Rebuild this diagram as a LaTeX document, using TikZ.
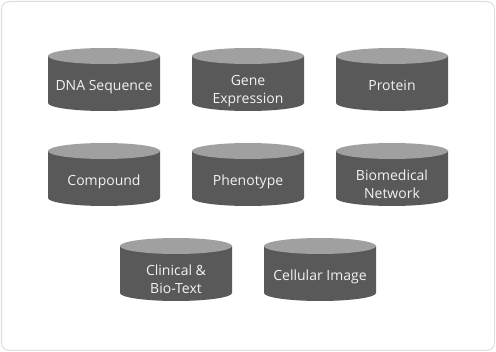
\documentclass[tikz,border=0pt]{standalone}
\usepackage{fontspec}
\setmainfont{Open Sans}
\usetikzlibrary{positioning,calc}
\definecolor{DrumBody}{RGB}{89,89,89}
\definecolor{DrumTop}{RGB}{160,160,160}
\definecolor{DrumText}{RGB}{242,242,242}
\definecolor{FrameGray}{RGB}{222,222,222}
\pgfdeclarelayer{background}
\pgfsetlayers{background,main}
\tikzset{
  drum/.style={minimum width=84pt,minimum height=47.25pt,
    inner sep=0pt,outer sep=0pt,text=DrumText,align=center,
    font=\fontsize{10.5}{13.5}\selectfont,text height=16.5pt,text depth=0pt},
  twoline/.style={text height=36pt,text depth=0pt},
  drumcap/.style={x radius=42pt,y radius=6pt},
  frame/.style={draw=FrameGray,line width=0.75pt,rounded corners=6pt}
}
\begin{document}
\begin{tikzpicture}[x=0.75pt,y=-0.75pt,node distance=24pt]
  \useasboundingbox (0,0) rectangle (496,352);
  \draw[frame] (1.5,1.5) rectangle (494.5,350.5);
  % first row
  \node[drum] (dna) at (104,79.5) {DNA Sequence};
  \node[drum,twoline,right=of dna] (gene) {Gene\\Expression};
  \node[drum,right=of gene] (prot) {Protein};
  % second row
  \node[drum,below=of dna] (comp) {Compound};
  \node[drum,below=of gene] (phen) {Phenotype};
  \node[drum,twoline,below=of prot] (net) {Biomedical\\Network};
  % third row, shifted half a step
  \node[drum,twoline,below=of $(comp.south)!0.5!(phen.south)$] (clin) {Clinical \&\\Bio-Text};
  \node[drum,below=of $(phen.south)!0.5!(net.south)$] (cell) {Cellular Image};
  % the drums behind the texts
  \begin{pgfonlayer}{background}
    \foreach \d in {dna,gene,prot,comp,phen,net,clin,cell}{
      \fill[DrumBody] ([yshift=-6pt]\d.north west) -- ([yshift=6pt]\d.south west)
        arc[start angle=180,end angle=360,drumcap] -- ([yshift=-6pt]\d.north east) -- cycle;
      \fill[DrumTop] ([yshift=-6pt]\d.north) ellipse[drumcap];
    }
  \end{pgfonlayer}
\end{tikzpicture}
\end{document}
